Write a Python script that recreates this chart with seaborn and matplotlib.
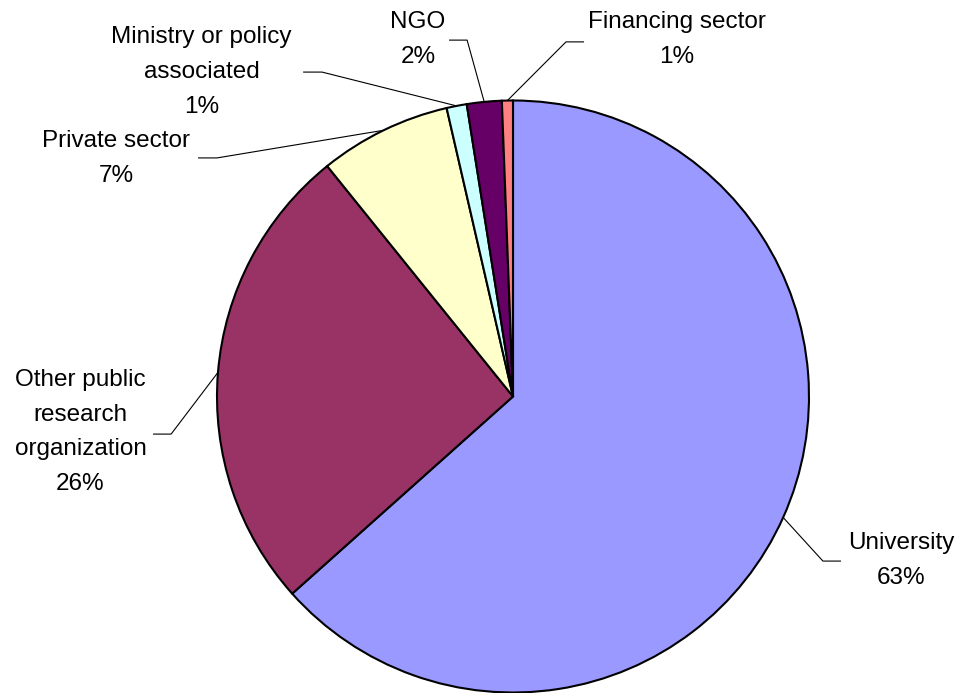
import matplotlib
matplotlib.use("Agg")
import matplotlib.pyplot as plt
import seaborn as sns
import numpy as np

# Share of participants by type of institution (percent)
categories = [
    "University",
    "Other public\nresearch\norganization",
    "Private sector",
    "Ministry or policy\nassociated",
    "NGO",
    "Financing sector",
]
shares = [63.4, 25.8, 7.2, 1.1, 1.9, 0.6]
slice_colors = ["#9999FF", "#993366", "#FFFFCC", "#CCFFFF", "#660066", "#FF8080"]

sns.set_theme(style="white")
plt.rcParams["font.family"] = ["Liberation Sans", "DejaVu Sans"]

W, H = 961, 693
fig = plt.figure(figsize=(W / 100, H / 100), dpi=100)
fig.patch.set_facecolor("white")

# square axes holding a unit-radius pie
cx, cy, r = 513, 396.5, 296
ax = fig.add_axes([(cx - r) / W, (H - cy - r) / H, 2 * r / W, 2 * r / H])

palette = sns.color_palette(slice_colors)
wedges, _ = ax.pie(
    shares,
    colors=palette,
    startangle=90,
    counterclock=False,
    radius=1,
    wedgeprops=dict(edgecolor="black", linewidth=1.5),
)
ax.set_xlim(-1, 1)
ax.set_ylim(-1, 1)
ax.set_aspect("equal")
ax.axis("off")

# label layout in pie-radius units: text anchor (baseline of the last line),
# leader elbow, leader end
label_layout = [
    ((1.311, -0.633), (1.047, -0.556), (1.108, -0.556)),
    ((-1.461, -0.316), (-1.155, -0.127), (-1.216, -0.127)),
    ((-1.341, 0.725), (-1.000, 0.806), (-1.064, 0.806)),
    ((-1.052, 0.958), (-0.645, 1.096), (-0.709, 1.096)),
    ((-0.321, 1.127), (-0.155, 1.204), (-0.216, 1.204)),
    ((0.554, 1.127), (0.179, 1.198), (0.240, 1.198)),
]

total = sum(shares)
for wedge, name, value, (txt, elbow, end) in zip(wedges, categories, shares, label_layout):
    mid = np.deg2rad((wedge.theta1 + wedge.theta2) / 2)
    x0, y0 = np.cos(mid), np.sin(mid)
    ax.plot([x0, elbow[0], end[0]], [y0, elbow[1], end[1]],
            color="black", lw=0.8, clip_on=False, solid_capstyle="butt")
    ax.text(txt[0], txt[1], f"{name}\n{value / total * 100:.0f}%",
            ha="center", va="baseline", multialignment="center",
            fontsize=17.5, linespacing=1.75, color="black", clip_on=False)

fig.savefig("out.png", dpi=100, facecolor="white")
